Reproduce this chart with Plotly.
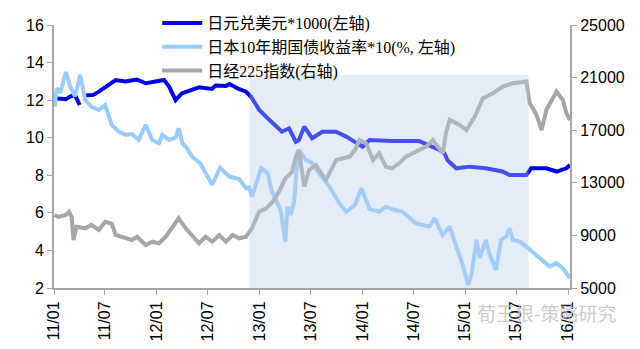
import plotly.graph_objects as go

# ---------------- data ----------------
yen_dates = ["2011-01-03", "2011-02-12", "2011-03-01", "2011-03-17", "2011-04-02", "2011-04-10",
             "2011-04-20", "2011-05-21", "2011-06-09", "2011-07-14", "2011-08-08", "2011-09-12",
             "2011-10-22", "2011-11-23", "2011-12-28", "2012-01-27", "2012-02-14", "2012-03-08",
             "2012-03-30", "2012-05-30", "2012-07-15", "2012-07-28", "2012-09-03", "2012-09-15",
             "2012-10-20", "2012-11-13", "2012-12-01", "2012-12-30", "2013-02-05", "2013-03-21",
             "2013-04-15", "2013-05-09", "2013-05-20", "2013-06-08", "2013-07-06", "2013-08-11",
             "2013-09-29", "2013-11-04", "2013-12-03", "2014-01-01", "2014-01-26", "2014-04-16",
             "2014-07-21", "2014-08-26", "2014-10-01", "2014-10-19", "2014-10-30", "2014-11-30",
             "2015-01-17", "2015-03-15", "2015-05-13", "2015-06-07", "2015-08-06", "2015-08-23",
             "2015-10-16", "2015-11-21", "2015-12-26", "2016-01-08"]
yen_values = [12.1, 12.05, 12.2, 12.27, 11.74, None,
              12.25, 12.28, 12.45, 12.8, 13.07, 13.0,
              13.1, 12.9, 13.0, 13.07, 12.72, 12.0,
              12.36, 12.68, 12.6, 12.78, 12.75, 12.86,
              12.58, 12.45, 12.18, 11.48, 10.94, 10.32,
              10.5, 9.79, 9.88, 10.59, 9.97, 10.32,
              10.32, 10.06, 9.79, 9.52, 9.88, 9.82,
              9.82, 9.61, 9.35, 9.17, 8.8, 8.37,
              8.46, 8.37, 8.2, 8.02, 8.02, 8.37,
              8.37, 8.2, 8.37, 8.55]

jgb_dates = ["2011-01-03", "2011-01-11", "2011-01-24", "2011-02-12", "2011-02-28", "2011-03-17",
             "2011-04-04", "2011-04-22", "2011-05-14", "2011-06-09", "2011-07-02", "2011-07-25",
             "2011-08-19", "2011-09-12", "2011-10-05", "2011-10-29", "2011-11-23", "2011-12-16",
             "2012-01-09", "2012-01-21", "2012-02-14", "2012-03-08", "2012-03-19", "2012-04-01",
             "2012-04-13", "2012-05-06", "2012-06-03", "2012-07-16", "2012-08-13", "2012-09-15",
             "2012-10-20", "2012-11-13", "2012-11-24", "2012-12-04", "2013-01-06", "2013-01-30",
             "2013-02-11", "2013-02-28", "2013-03-16", "2013-04-02", "2013-04-09", "2013-04-21",
             "2013-05-03", "2013-05-15", "2013-05-20", "2013-06-14", "2013-07-07", "2013-07-31",
             "2013-09-05", "2013-10-11", "2013-11-04", "2013-12-05", "2013-12-28", "2014-01-26",
             "2014-03-01", "2014-03-25", "2014-04-16", "2014-05-23", "2014-07-10", "2014-08-26",
             "2014-09-14", "2014-10-13", "2014-11-07", "2014-11-30", "2014-12-23", "2015-01-11",
             "2015-01-23", "2015-02-10", "2015-02-22", "2015-03-15", "2015-03-27", "2015-04-20",
             "2015-05-08", "2015-05-26", "2015-06-07", "2015-06-19", "2015-07-13", "2015-08-06",
             "2015-09-11", "2015-10-28", "2015-11-21", "2015-12-14", "2016-01-08"]
jgb_values = [11.65, 12.63, 12.4, 13.5, 12.7, 12.2,
              13.34, 12.0, 11.65, 11.48, 11.74, 10.68,
              10.32, 10.15, 10.2, 9.88, 10.68, 9.88,
              9.7, 10.15, 9.88, 10.0, 10.5, 9.7,
              9.52, 8.99, 8.64, 7.5, 8.4, 7.93,
              7.8, 7.31, 7.35, 6.86, 8.37, 8.1,
              7.22, 6.6, 6.15, 4.47, 6.33, 5.89,
              6.6, 8.99, 9.35, 8.82, 8.64, 8.1,
              7.4, 6.51, 6.06, 6.42, 7.31, 6.2,
              6.06, 6.33, 6.2, 6.06, 5.44, 5.27,
              5.71, 4.82, 5.27, 4.2, 3.23, 2.16,
              2.7, 4.56, 3.6, 4.56, 3.85, 2.96,
              4.56, 4.73, 5.18, 4.56, 4.47, 4.2,
              3.76, 3.14, 3.32, 3.05, 2.52]

nikkei_dates = ["2011-01-03", "2011-01-18", "2011-02-12", "2011-02-23", "2011-03-05", "2011-03-11",
                "2011-03-22", "2011-04-22", "2011-05-14", "2011-06-09", "2011-07-02", "2011-07-25",
                "2011-08-08", "2011-09-12", "2011-10-05", "2011-10-23", "2011-11-23", "2011-12-16",
                "2012-01-09", "2012-02-02", "2012-02-26", "2012-03-19", "2012-04-13", "2012-05-06",
                "2012-05-30", "2012-06-23", "2012-07-16", "2012-08-10", "2012-09-03", "2012-09-26",
                "2012-10-20", "2012-11-13", "2012-12-04", "2012-12-30", "2013-01-24", "2013-02-16",
                "2013-03-10", "2013-04-02", "2013-04-25", "2013-05-09", "2013-05-20", "2013-06-08",
                "2013-06-25", "2013-07-19", "2013-08-24", "2013-09-29", "2013-11-16", "2013-12-05",
                "2013-12-21", "2014-01-14", "2014-02-07", "2014-03-01", "2014-03-25", "2014-04-16",
                "2014-05-11", "2014-06-04", "2014-07-10", "2014-08-15", "2014-09-08", "2014-10-01",
                "2014-10-13", "2014-10-25", "2014-11-07", "2014-12-12", "2015-01-05", "2015-02-04",
                "2015-03-04", "2015-04-09", "2015-05-14", "2015-06-19", "2015-07-24", "2015-08-06",
                "2015-08-18", "2015-09-11", "2015-09-29", "2015-10-16", "2015-11-21", "2015-12-14",
                "2015-12-26", "2016-01-08"]
nikkei_values = [10550, 10400, 10550, 10800, 10400, 8650,
                 9660, 9540, 9800, 9410, 10040, 9900,
                 9030, 8780, 8650, 8900, 8270, 8520,
                 8400, 8900, 9660, 10300, 9540, 9030,
                 8400, 8900, 8520, 9030, 8520, 9030,
                 8780, 8900, 9540, 10800, 11060, 11560,
                 12320, 13340, 13800, 14990, 15500, 12700,
                 13970, 14350, 13210, 14730, 14990, 15500,
                 16250, 16000, 14730, 15240, 14220, 14100,
                 14480, 14990, 15370, 15750, 16250, 15620,
                 15240, 16880, 17780, 17400, 17010, 18030,
                 19420, 19800, 20310, 20570, 20700, 20700,
                 19040, 18160, 17010, 18540, 19930, 19300,
                 18300, 17780]

series_names = ["日元兑美元*1000(左轴)", "日本10年期国债收益率*10(%, 左轴)", "日经225指数(右轴)"]
tick_dates = ["2011-01-01", "2011-07-01", "2012-01-01", "2012-07-01", "2013-01-01", "2013-07-01",
              "2014-01-01", "2014-07-01", "2015-01-01", "2015-07-01", "2016-01-01"]
tick_labels = ["11/01", "11/07", "12/01", "12/07", "13/01", "13/07",
               "14/01", "14/07", "15/01", "15/07", "16/01"]
left_ticks = [2, 4, 6, 8, 10, 12, 14, 16]
right_ticks = [5000, 9000, 13000, 17000, 21000, 25000]
right_labels = ["5000", "9000", "13000", "17000", "21000", "25000"]
shade_period = ["2012-11-26", "2015-08-14"]
shade_top = 13.34

# ---------------- figure ----------------
fig = go.Figure()
fig.add_trace(go.Scatter(x=yen_dates, y=yen_values, name=series_names[0], mode="lines",
                         line=dict(color="#0000F0", width=4), connectgaps=False))
fig.add_trace(go.Scatter(x=jgb_dates, y=jgb_values, name=series_names[1], mode="lines",
                         line=dict(color="#99CCFF", width=4)))
fig.add_trace(go.Scatter(x=nikkei_dates, y=nikkei_values, name=series_names[2], mode="lines",
                         line=dict(color="#A6A6A6", width=4), yaxis="y2"))

fig.add_shape(type="rect", xref="x", yref="y", x0=shade_period[0], x1=shade_period[1],
              y0=2, y1=shade_top, fillcolor="rgb(184,205,234)", opacity=0.38,
              line=dict(width=0), layer="above")

axis_font = dict(family="Liberation Sans, Arial, sans-serif", size=16, color="#000000")
fig.update_layout(
    width=640, height=349,
    margin=dict(l=54, r=70, t=25, b=61, autoexpand=False),
    paper_bgcolor="white", plot_bgcolor="white",
    showlegend=True,
    legend=dict(x=0.2, y=1.072, xanchor="left", yanchor="top",
                bgcolor="rgba(0,0,0,0)", tracegroupgap=0, itemwidth=40,
                font=dict(family="Liberation Serif, Noto Sans CJK SC", size=16, color="#000000")),
    xaxis=dict(type="date", range=["2011-01-01", "2016-01-08"], automargin=False,
               tickvals=tick_dates, ticktext=tick_labels, tickangle=-90,
               showgrid=False, zeroline=False, showline=True, linecolor="#A6A6A6", linewidth=2,
               ticks="outside", ticklen=5, tickcolor="#A6A6A6", tickfont=axis_font),
    yaxis=dict(range=[2, 16], tickvals=left_ticks, showgrid=False, zeroline=False, showline=True,
               automargin=False, linecolor="#A6A6A6", linewidth=2, ticks="outside", ticklen=5,
               tickcolor="#A6A6A6", tickfont=axis_font),
    yaxis2=dict(range=[5000, 25000], tickvals=right_ticks, ticktext=right_labels,
                overlaying="y", side="right", automargin=False,
                showgrid=False, zeroline=False, showline=True, linecolor="#A6A6A6",
                linewidth=2, ticks="outside", ticklen=5, tickcolor="#A6A6A6",
                tickfont=axis_font),
)

fig.add_annotation(xref="paper", yref="paper", x=1.095, y=-0.095, xanchor="right", yanchor="middle",
                   text="荀玉根-策略研究", showarrow=False,
                   font=dict(family="Noto Sans CJK SC", size=19, color="rgba(190,190,190,0.8)"))

fig.write_html("out.html")
